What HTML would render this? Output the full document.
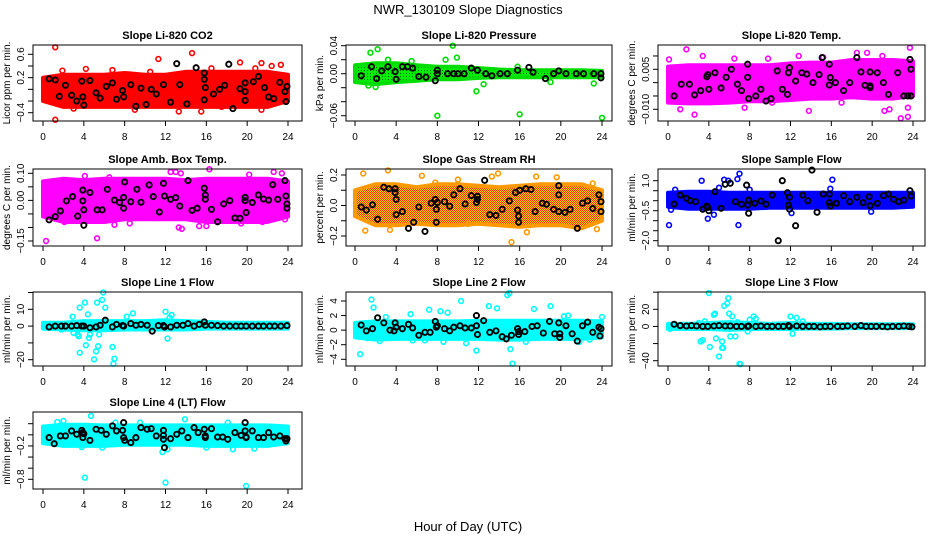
<!DOCTYPE html>
<html><head><meta charset="utf-8"><style>
html,body{margin:0;padding:0;background:#fff;}
svg{display:block;font-family:"Liberation Sans",sans-serif;}
</style></head><body>
<svg id="chart" width="936" height="540" viewBox="0 0 936 540" xmlns="http://www.w3.org/2000/svg">
<defs>
<pattern id="pGreen" width="3" height="3" patternUnits="userSpaceOnUse"><rect width="3" height="3" fill="#00ee00"/><rect x="1" y="1" width="1" height="1" fill="#006600"/></pattern>
<pattern id="pRH" width="2" height="2" patternUnits="userSpaceOnUse"><rect width="2" height="2" fill="#ffd800"/><rect width="1" height="1" fill="#ff2a00"/><rect x="1" y="1" width="1" height="1" fill="#ff2a00"/></pattern>
</defs>
<text x="468" y="14" text-anchor="middle" font-size="13">NWR_130109  Slope Diagnostics</text>
<text x="468" y="531" text-anchor="middle" font-size="13">Hour of Day (UTC)</text>
</svg>
<script>
const hours=[0,4,8,12,16,20,24];
const bandHours=[0,2,4,6,8,10,12,14,16,18,20,22,24];

const co2Hi=[0.2,0.25,0.25,0.25,0.28,0.25,0.25,0.3,0.3,0.3,0.3,0.3,0.25];
const co2Lo=[-0.2,-0.3,-0.3,-0.3,-0.3,-0.3,-0.3,-0.3,-0.3,-0.3,-0.3,-0.3,-0.2];
const co2Out=[[1.2,0.72],[1.2,-0.52],[11.3,0.52],[14.6,0.62],[15.5,-0.38],[13.3,-0.38],[21.4,-0.35],[19.3,0.46],[23.3,0.42],[21.4,0.45],[1.9,0.32],[4.2,0.35],[9,-0.35],[6.8,0.33],[10.5,0.3],[16.5,0.36],[20.8,0.36],[22.4,0.4],[3,-0.33],[17.5,-0.3]];
const co2Black=[[0.6,0.18],[1.2,0.16],[1.6,-0.12],[2.2,0.07],[2.8,-0.1],[3.3,-0.2],[3.8,0.14],[3.9,-0.13],[4,-0.27],[4.6,0.15],[5.2,-0.06],[5.6,-0.15],[6.2,0.05],[6.8,0.11],[7.2,-0.17],[7.8,-0.02],[7.9,-0.13],[8.6,0.08],[9.1,-0.29],[9.6,0.02],[10.1,-0.26],[10.6,0],[11.1,-0.08],[11.8,0.08],[12.5,-0.22],[13.1,0.44],[13.4,0.08],[14.1,-0.25],[15,0.37],[15.8,0.28],[15.8,0.17],[15.9,0.03],[15.8,-0.18],[16.7,-0.08],[17.3,0],[17.8,0.07],[18.2,0.43],[18.6,-0.33],[19.3,0.01],[19.8,-0.04],[19.8,-0.19],[19.8,0.11],[20.6,0.13],[21.1,0.22],[21.7,0.03],[22.1,-0.13],[22.6,-0.16],[23.2,0.12],[23.7,-0.04],[23.9,0.05],[23.8,-0.21]];

const presHi=[0.012,0.015,0.015,0.012,0.01,0.01,0.008,0.006,0.005,0.005,0.005,0.005,0.004];
const presLo=[-0.012,-0.015,-0.012,-0.01,-0.008,-0.008,-0.006,-0.005,-0.005,-0.005,-0.005,-0.005,-0.005];
const presOut=[[1.5,0.03],[2.2,0.035],[9.5,0.04],[9.9,0.023],[11.8,-0.025],[8,-0.06],[16,-0.058],[24,-0.063],[1.3,-0.017],[2,-0.019],[8.8,0.02],[15.8,0.01],[3.2,0.02],[5.5,0.018],[12.5,-0.015],[19,-0.012],[23.2,-0.014]];
const presBlack=[[0.6,-0.003],[1.6,0.01],[2.1,-0.007],[2.6,0.004],[3.2,0.01],[3.9,0.003],[4,-0.008],[4.6,0.01],[5.1,0.01],[5.6,0.008],[6.2,-0.004],[6.9,-0.005],[7.8,-0.01],[8,0.005],[8,0],[9,0],[9.6,0],[10,0],[10.6,0],[11.3,0.008],[11.9,0.005],[12.7,0],[13.3,-0.003],[14.1,0],[14.8,0],[15.8,0.005],[16.9,0.009],[17.3,0.002],[18.5,-0.007],[19.3,0],[19.8,0.004],[20.5,0],[21.5,0],[22.2,0],[23.2,0],[23.9,0],[23.9,-0.006]];

const tempHi=[0.006,0.0065,0.0065,0.0065,0.0065,0.0065,0.0072,0.0075,0.0075,0.0085,0.0085,0.0085,0.008];
const tempLo=[-0.0075,-0.0078,-0.0078,-0.0075,-0.007,-0.007,-0.0065,-0.006,-0.006,-0.0055,-0.006,-0.006,-0.005];
const tempOut=[[0.1,0.0087],[1.8,0.0125],[3.4,0.01],[1.2,-0.01],[2.6,-0.012],[7.5,-0.0094],[13.8,-0.0106],[18.5,0.0112],[19.5,0.0112],[21.2,-0.0106],[21.7,-0.01],[22.8,-0.0134],[23.5,-0.0094],[23.5,-0.0128],[23.7,0.0131],[12.8,0.01],[10.2,-0.0075],[17,-0.0075],[6.5,0.009],[9.8,0.009],[15.2,0.0095],[21,0.01]];
const tempBlack=[[0.6,-0.005],[1.3,-0.0006],[2.1,-0.0006],[2.6,-0.0046],[3.2,-0.003],[3.8,0.0022],[3.9,0.003],[4,-0.0025],[4.6,0.0037],[5.2,-0.002],[5.7,0.002],[6.2,0.005],[6.8,-0.0006],[7.2,-0.003],[7.8,0.002],[7.8,0.0069],[7.9,-0.006],[8.6,-0.005],[9.1,-0.0025],[9.6,-0.0069],[10.1,-0.006],[10.7,0.0044],[11.2,-0.0025],[11.7,-0.0044],[11.8,0.0037],[11.9,0.0056],[12.5,0.0006],[13.1,0.0037],[13.6,0.0032],[14.2,0],[14.8,0.003],[15.1,0.0094],[15.8,0.0069],[15.8,-0.0009],[15.9,0.0019],[16.4,0],[17.2,-0.003],[17.8,0],[18.5,0.0094],[18.9,0.004],[19.3,-0.001],[19.8,-0.0012],[19.8,-0.0019],[19.8,0.004],[20.5,0.0037],[21.1,0],[21.6,-0.0044],[22.5,0.0037],[23.1,-0.005],[23.5,-0.005],[23.7,0.0087],[23.8,0.005],[23.8,-0.005]];

const ambHi=[0.07,0.08,0.075,0.08,0.08,0.08,0.08,0.075,0.08,0.08,0.08,0.08,0.07];
const ambLo=[-0.06,-0.08,-0.08,-0.08,-0.07,-0.07,-0.07,-0.07,-0.08,-0.08,-0.08,-0.08,-0.06];
const ambOut=[[0.3,-0.15],[5.3,-0.14],[1.9,-0.06],[4.1,0.09],[6.5,0.085],[12.5,0.105],[13,0.105],[13.5,0.1],[16.3,0.115],[20.2,0.095],[22.6,0.105],[23.4,0.1],[13.6,-0.105],[13.3,-0.1],[15.3,-0.095],[16,-0.095],[7,-0.09],[2.1,-0.08],[10.9,-0.065],[21.5,-0.08],[23.7,-0.07],[5.6,-0.075],[8.5,-0.085],[19.4,-0.085]];
const ambBlack=[[0.6,-0.072],[1.2,-0.06],[1.7,-0.039],[2.3,-0.002],[2.9,0.014],[3.4,-0.058],[3.9,0.038],[3.9,-0.002],[4,-0.035],[4,-0.092],[4.6,0.029],[5.3,-0.035],[5.8,-0.035],[6.3,0.041],[7,0.001],[7.5,-0.008],[7.9,0.011],[7.9,-0.029],[8,0.068],[8.6,-0.005],[9.2,0.041],[9.6,-0.007],[10.4,0.057],[10.8,0.014],[11.4,-0.043],[11.8,0.063],[11.9,0.016],[12.5,0.004],[13,0.01],[13.4,-0.021],[14.2,0.073],[14.6,-0.037],[15.1,-0.029],[15.8,0.045],[15.9,0.02],[15.9,0.004],[16.5,-0.033],[17.1,-0.079],[17.7,-0.013],[18.3,-0.001],[18.8,-0.065],[19.3,-0.066],[19.8,0.011],[19.8,-0.001],[19.9,-0.045],[20.5,-0.008],[21.1,0.02],[21.6,0.005],[22.1,0.001],[22.5,0.058],[23,0.004],[23.7,0.073],[23.8,0.016],[23.9,-0.013],[23.9,-0.029]];

const rhHi=[0.1,0.14,0.14,0.12,0.14,0.14,0.13,0.12,0.13,0.14,0.14,0.14,0.1];
const rhLo=[-0.07,-0.13,-0.13,-0.12,-0.13,-0.13,-0.12,-0.13,-0.14,-0.13,-0.13,-0.15,-0.1];
const rhOut=[[0.8,0.21],[3.2,0.23],[6.5,0.195],[13.9,0.21],[15.2,-0.24],[17.6,0.19],[19.6,0.185],[23.1,0.145],[1,-0.165],[3.4,-0.16],[16.7,-0.175],[23.5,-0.155],[11,-0.12],[13.3,0.19],[10,0.17],[7.8,0.15]];
const rhBlack=[[0.6,-0.01],[1.1,-0.03],[1.7,0.005],[2.2,-0.09],[2.8,0.12],[3.3,0.11],[3.9,0.11],[3.9,0.085],[4,0.04],[4,-0.06],[4.6,-0.04],[5.2,-0.15],[5.7,-0.11],[6.2,-0.01],[6.8,-0.17],[7.4,0.015],[7.8,0.04],[7.9,-0.025],[7.9,-0.11],[8,0.02],[8.7,0.025],[9.2,-0.005],[9.6,0.07],[10.2,0.11],[10.7,0.01],[11.3,0.065],[11.8,0.02],[11.9,0.06],[11.9,0.04],[12.6,0.165],[13.1,-0.06],[13.7,-0.065],[14.3,-0.025],[15,0.03],[15.6,0.085],[15.8,-0.03],[15.9,-0.07],[15.9,-0.11],[16,0.1],[16.6,0.11],[17.1,0.105],[17.5,-0.04],[18.2,0.015],[18.6,0.008],[19.3,-0.025],[19.8,0.07],[19.8,-0.04],[19.8,0.13],[20.4,-0.045],[20.9,-0.025],[21.6,-0.15],[22.1,0.015],[22.6,0.03],[23.1,-0.02],[23.7,0.07],[23.9,0.025],[23.9,-0.04]];

const sfHi=[0.4,0.45,0.45,0.4,0.4,0.4,0.4,0.4,0.4,0.4,0.4,0.4,0.4];
const sfLo=[-0.3,-0.4,-0.4,-0.4,-0.4,-0.35,-0.35,-0.35,-0.35,-0.35,-0.35,-0.35,-0.3];
const sfOut=[[0.1,-1.22],[0.3,-0.45],[3.3,1],[3.9,-0.9],[4.5,-0.7],[5.5,1.05],[5.9,1],[6.8,1.08],[7,1.35],[6.9,-1.22],[8,0.55],[16.1,1.05],[19.9,-0.55],[12.1,-0.62],[5,0.65],[15.9,0.6],[0.7,0.55]];
const sfBlack=[[0.6,-0.17],[1.2,0.28],[1.8,0.12],[2.2,0],[2.7,-0.05],[3.4,-0.43],[3.8,-0.27],[3.9,-0.33],[4,-0.5],[4.6,0.45],[5.2,-0.38],[5.6,0.82],[6.1,0.87],[6.6,-0.05],[7.2,-0.18],[7.7,0.78],[7.8,-0.22],[7.9,0.03],[7.9,-0.63],[8.5,-0.13],[9.1,-0.02],[9.6,-0.18],[10.2,0.28],[10.8,-2],[11.2,1],[11.7,0.4],[11.8,-0.22],[11.9,-0.42],[11.9,0.17],[12.5,-1.25],[13.2,0.28],[13.7,0],[14.1,1.53],[14.6,-0.58],[15.2,0.33],[15.8,0.33],[15.8,-0.1],[15.9,-0.27],[16.5,-0.13],[17.2,0.25],[17.8,-0.05],[18.5,0.17],[19.1,-0.1],[19.7,0.2],[19.8,-0.25],[20.5,-0.13],[21.1,0.25],[21.6,0.33],[22.1,0.07],[22.6,-0.05],[23.1,0.03],[23.7,0.5],[23.8,0.23]];

const l1Hi=[2,2,3,3,3,3,3.5,3,2.5,2,2,2,2];
const l1Lo=[-1.5,-2,-2.5,-2.5,-2,-2,-2,-2,-1.5,-1.5,-1.5,-1.5,-1.5];
const l1Out=[[2.9,5.6],[3,-4],[3.4,-5],[3.5,-6],[3.6,11],[3.6,-15.8],[4.1,14],[4.2,-11.4],[4.4,7],[4.5,-7],[4.6,-5],[5,-19.8],[5.2,-15],[5.3,14],[5.4,-12],[5.5,-5],[5.8,15.6],[5.9,20],[6.1,11],[6.8,-12.4],[6.9,-22.4],[7,-19.4],[8.2,5.6],[8.8,7.6],[12,8.6],[12.2,-7.4],[12.4,5],[12.6,6.6],[1.8,-2],[9.5,1.6]];
const l1Black=[[0.6,-0.5],[1.2,0],[1.8,0],[2.2,0],[2.8,0],[3.3,0.3],[3.8,0],[4,0],[4.6,-1],[5.2,-0.5],[5.6,0.5],[6.1,3.5],[6.8,-0.5],[7.2,1],[7.8,0.3],[7.9,0],[8.6,1.5],[9.1,0.5],[9.6,1],[10.2,0.5],[10.7,-3],[11.3,0.3],[11.8,0.3],[11.9,-0.5],[12.5,-0.5],[13.1,0.5],[13.7,0.5],[14.2,1.5],[14.8,0],[15.3,1],[15.8,2.5],[15.9,0.5],[16.5,0.5],[17.1,0.3],[17.7,0],[18.3,0],[18.9,0],[19.4,0],[19.9,0],[20.5,0],[21.1,0],[21.6,0],[22.2,0],[22.7,0],[23.3,0],[23.9,0.3]];

const l2Hi=[1,1.2,1.2,1.2,1.2,1.2,1.3,1.3,1.3,1.3,1.3,1.3,1.2];
const l2Lo=[-1,-1.3,-1.2,-1.2,-1.2,-1.2,-1.2,-1.3,-1.3,-1.2,-1.2,-1.2,-1];
const l2Out=[[0.5,-3.3],[1.6,4.2],[1.8,3.1],[3,1.8],[5.4,2.2],[7.2,2.8],[8.3,2.6],[9,2.4],[10.3,4],[10.8,-1.8],[11.8,-2.8],[13,3.3],[13.8,3],[14.8,4.8],[15,5.1],[15.1,-2.6],[15.3,-4.6],[17.4,2.9],[19,3.3],[20.3,1.9],[20.7,2],[24,1.8],[1.2,-1.1],[2.4,-1.5],[5.6,-1.4],[6.8,-1.4],[8.6,-1.6],[16.6,-1.6],[21.8,-1.6],[22.8,-1.3]];
const l2Black=[[0.6,0.7],[1.1,-0.1],[1.7,0.2],[2.2,1.7],[2.8,1],[3.4,0],[3.8,-0.1],[3.9,1],[4,0.4],[4.6,0.2],[5.2,0.8],[5.6,0.3],[6.2,-0.7],[6.8,-0.3],[7.3,-0.3],[7.8,1.2],[7.9,0.4],[8,0.6],[8.7,0.2],[9.2,-0.1],[9.6,0.4],[10.2,0.6],[10.7,0.3],[11.3,0.3],[11.8,2],[11.8,0.6],[11.9,-0.6],[12.5,1.3],[13.1,-0.3],[13.7,-0.1],[14.3,-0.9],[14.7,-1.2],[15.2,-0.7],[15.8,0.2],[15.9,-0.2],[15.9,-0.6],[16.5,-0.2],[17.2,0.5],[17.7,0.6],[18.3,-0.4],[18.9,1.2],[19.4,-0.5],[19.8,1],[19.9,-0.5],[19.9,-1],[20.5,0.6],[21.1,-0.5],[21.6,-1.5],[22.1,0.6],[22.6,1.1],[23.1,-0.3],[23.7,0.4],[23.8,-0.8],[23.9,0.2]];

const l3Hi=[3,3,4,5,4,3,4,3,3,2.5,2.5,2.5,2.5];
const l3Lo=[-3,-3,-3,-4,-3,-3,-3,-2.5,-2.5,-2,-2,-2,-2];
const l3Out=[[4,39],[3.2,-17.5],[3.4,-16],[4.1,-24],[4.5,13.6],[4.6,15],[4.7,-14],[5,-35],[5.3,-17.5],[5.4,-25],[5.5,24],[5.3,-25],[5.8,27],[5.9,33],[6.1,-11.7],[6,15],[6.3,11.7],[6.6,-11.7],[7,-43.6],[7.1,-44],[6.8,5],[7.8,-5.8],[8,7.8],[8.4,11.7],[8.6,9],[12,11.7],[12.2,-8.5],[12.6,10],[13.2,6],[3.6,6],[3,4],[2.4,-1.5],[0.2,-2.7]];
const l3Black=[[0.6,2.5],[1.2,1],[1.8,0.5],[2.3,1],[2.8,0.5],[3.4,0],[3.9,0],[4.5,0.5],[5,1],[5.6,0.5],[6.1,0.5],[6.7,0],[7.2,0],[7.8,0],[7.9,0.5],[8.6,0],[9.1,0.5],[9.7,0],[10.2,0],[10.8,0],[11.3,0],[11.8,1],[11.9,0],[12.6,0.5],[13.2,0],[13.8,0],[14.3,0],[14.9,-0.5],[15.4,0],[15.9,0],[16.6,0],[17.1,0],[17.6,0.5],[18.3,0],[18.9,1],[19.4,0],[19.9,0],[20.4,0],[21,0],[21.5,-0.5],[22,0],[22.6,0],[23.1,0.5],[23.6,0],[23.9,-0.5]];

const l4Hi=[0.15,0.18,0.18,0.17,0.17,0.17,0.17,0.17,0.17,0.17,0.17,0.17,0.15];
const l4Lo=[-0.15,-0.2,-0.2,-0.2,-0.18,-0.18,-0.18,-0.18,-0.2,-0.2,-0.2,-0.2,-0.15];
const l4Out=[[4.1,-0.77],[12,-0.86],[19.9,-0.92],[4.7,0.34],[1.4,0.23],[2,0.25],[13.9,0.28],[11.7,-0.31],[12.2,-0.26],[18.6,-0.26],[20.7,-0.25],[16,-0.23],[5.8,-0.23],[3.8,-0.22],[7.1,0.22],[9.5,0.22],[18.1,0.22]];
const l4Black=[[0.6,-0.05],[1.1,-0.16],[1.7,-0.02],[2.2,-0.02],[2.8,0.07],[3.3,0.01],[3.8,0.08],[3.9,0.04],[3.9,-0.05],[4,0.02],[4.6,-0.1],[5.2,0.1],[5.7,0.08],[6.2,0.01],[6.8,0.16],[7.2,0.07],[7.8,0.08],[7.9,0.22],[7.9,-0.05],[8,-0.1],[8.6,-0.14],[9.1,-0.05],[9.6,0.13],[10.2,0.1],[10.6,0.11],[11.1,-0.02],[11.8,0.08],[11.8,-0.01],[11.8,-0.08],[11.9,-0.23],[12.5,-0.07],[13.1,0.01],[13.6,0.07],[14.2,-0.05],[14.8,0.13],[15.2,0.04],[15.8,0.1],[15.9,-0.02],[15.9,-0.05],[16.5,0.11],[17.1,-0.04],[17.6,-0.04],[18.1,-0.08],[18.8,0.04],[19.4,-0.01],[19.8,0.22],[19.8,0.07],[19.9,-0.04],[19.9,-0.05],[20.5,0.07],[21.1,-0.05],[21.6,-0.05],[22.1,0.04],[22.6,-0.04],[23.2,-0.02],[23.7,-0.07],[23.8,-0.11],[23.9,-0.07]];

const co2Ticks=[-0.4,-0.2,0,0.2,0.4,0.6], co2Labels=["-0.4","","","0.2","","0.6"];
const presTicks=[-0.06,-0.04,-0.02,0,0.02,0.04], presLabels=["-0.06","","","0.00","","0.04"];
const tempTicks=[-0.01,-0.005,0,0.005,0.01], tempLabels=["-0.010","","","0.005",""];
const ambTicks=[-0.15,-0.1,-0.05,0,0.05,0.1], ambLabels=["-0.15","","","0.00","","0.10"];
const rhTicks=[-0.2,-0.1,0,0.1,0.2], rhLabels=["-0.2","","0.0","","0.2"];
const sfTicks=[-2,-1.5,-1,-0.5,0,0.5,1], sfLabels=["-2.0","","","-0.5","","","1.0"];
const l1Ticks=[-20,-10,0,10,20], l1Labels=["-20","","0","10",""];
const l2Ticks=[-4,-2,0,2,4], l2Labels=["-4","-2","0","2","4"];
const l3Ticks=[-40,-20,0,20,40], l3Labels=["-40","","0","20",""];
const l4Ticks=[-0.8,-0.6,-0.4,-0.2,0,0.2], l4Labels=["-0.8","","","-0.2","",""];

const NS="http://www.w3.org/2000/svg";
const svg=document.getElementById('chart');
const colBox=[[33,302],[346,612],[658,925]];
const colX=[[43,288],[355,602],[668,913]];
const rowBox=[[45,121],[169,246],[292,366],[412,489]];

const panels=[
 {key:'co2',title:'Slope Li-820 CO2',ylab:'Licor ppm per min.',c:0,r:0,a:[0.6,54.3,-0.4,112.7],col:'#ff0000',fill:'#ff0000',hi:co2Hi,lo:co2Lo,out:co2Out,blk:co2Black,ticks:co2Ticks,labels:co2Labels},
 {key:'pressure',title:'Slope Li-820 Pressure',ylab:'kPa per min.',c:1,r:0,a:[0.04,45.7,-0.06,115.7],col:'#00dd00',fill:'url(#pGreen)',hi:presHi,lo:presLo,out:presOut,blk:presBlack,ticks:presTicks,labels:presLabels},
 {key:'li820-temp',title:'Slope Li-820 Temp.',ylab:'degrees C per min.',c:2,r:0,a:[0.005,69.3,-0.01,109.3],col:'#ff00ff',fill:'#ff00ff',hi:tempHi,lo:tempLo,out:tempOut,blk:tempBlack,ticks:tempTicks,labels:tempLabels},
 {key:'amb-box-temp',title:'Slope Amb. Box Temp.',ylab:'degrees C per min.',c:0,r:1,a:[0.1,173.3,-0.15,241],col:'#ff00ff',fill:'#ff00ff',hi:ambHi,lo:ambLo,out:ambOut,blk:ambBlack,ticks:ambTicks,labels:ambLabels},
 {key:'gas-stream-rh',title:'Slope Gas Stream RH',ylab:'percent per min.',c:1,r:1,a:[0.2,175,-0.2,236],col:'#ff9900',fill:'url(#pRH)',hi:rhHi,lo:rhLo,out:rhOut,blk:rhBlack,ticks:rhTicks,labels:rhLabels},
 {key:'sample-flow',title:'Slope Sample Flow',ylab:'ml/min per min.',c:2,r:1,a:[1,180.7,-2,240.7],col:'#0000ff',fill:'#0000ff',hi:sfHi,lo:sfLo,out:sfOut,blk:sfBlack,ticks:sfTicks,labels:sfLabels},
 {key:'line1-flow',title:'Slope Line 1 Flow',ylab:'ml/min per min.',c:0,r:2,a:[10,309.3,-20,359.7],col:'#00ffff',fill:'#00ffff',hi:l1Hi,lo:l1Lo,out:l1Out,blk:l1Black,ticks:l1Ticks,labels:l1Labels},
 {key:'line2-flow',title:'Slope Line 2 Flow',ylab:'ml/min per min.',c:1,r:2,a:[4,301,-4,359.3],col:'#00ffff',fill:'#00ffff',hi:l2Hi,lo:l2Lo,out:l2Out,blk:l2Black,ticks:l2Ticks,labels:l2Labels},
 {key:'line3-flow',title:'Slope Line 3 Flow',ylab:'ml/min per min.',c:2,r:2,a:[20,309.3,-40,360.7],col:'#00ffff',fill:'#00ffff',hi:l3Hi,lo:l3Lo,out:l3Out,blk:l3Black,ticks:l3Ticks,labels:l3Labels},
 {key:'line4-flow',title:'Slope Line 4 (LT) Flow',ylab:'ml/min per min.',c:0,r:3,a:[0.2,423.7,-0.8,479.3],col:'#00ffff',fill:'#00ffff',hi:l4Hi,lo:l4Lo,out:l4Out,blk:l4Black,ticks:l4Ticks,labels:l4Labels}
];

function mk(tag,attrs,parent){const e=document.createElementNS(NS,tag);for(const k in attrs)e.setAttribute(k,attrs[k]);(parent||svg).appendChild(e);return e;}

panels.forEach(p=>{
 const [bx0,bx1]=colBox[p.c], [by0,by1]=rowBox[p.r], [x0,x1]=colX[p.c];
 const xs=h=>x0+(x1-x0)*h/24;
 const ys=v=>p.a[1]+(p.a[3]-p.a[1])*(v-p.a[0])/(p.a[2]-p.a[0]);
 const g=mk('g',{});
 
 
 const t=mk('text',{x:(bx0+bx1)/2,y:by0-6,'text-anchor':'middle','font-size':'11','font-weight':'bold'},g);
 t.textContent=p.title;
 
 
 // band
 let d='';
 bandHours.forEach((h,i)=>{d+=(i?'L':'M')+xs(h).toFixed(1)+','+ys(p.hi[i]).toFixed(1);});
 for(let i=bandHours.length-1;i>=0;i--)d+='L'+xs(bandHours[i]).toFixed(1)+','+ys(p.lo[i]).toFixed(1);
 const band=mk('path',{d:d+'Z',fill:p.fill,stroke:p.col,'stroke-width':'4','stroke-linejoin':'round'},g);
 
 
 p.out.forEach(pt=>{
  const c=mk('circle',{cx:xs(pt[0]),cy:ys(pt[1]),r:2.4,fill:'none',stroke:p.col,'stroke-width':'1.6'},g);
  
  
 });
 p.blk.forEach(pt=>{
  const c=mk('circle',{cx:xs(pt[0]),cy:ys(pt[1]),r:2.6,fill:'none',stroke:'#000','stroke-width':'1.9'},g);
  
  
 });
 const box=mk('rect',{x:bx0,y:by0,width:bx1-bx0,height:by1-by0,fill:'none',stroke:'#000','stroke-width':'1'},g);
 
 
 // x axis
 hours.forEach(h=>{
  mk('line',{x1:xs(h),x2:xs(h),y1:by1,y2:by1+5,stroke:'#000'},g);
  const tl=mk('text',{x:xs(h),y:by1+19,'text-anchor':'middle','font-size':'10'},g);
  tl.textContent=h;
  
  
 });
 // y axis
 p.ticks.forEach((v,i)=>{
  const y=ys(v);
  mk('line',{x1:bx0-5,x2:bx0,y1:y,y2:y,stroke:'#000'},g);
  if(p.labels[i]){
   const tl=mk('text',{x:bx0-9,y:y,'text-anchor':'middle','font-size':'10',transform:'rotate(-90 '+(bx0-9)+' '+y+')'},g);
   tl.textContent=p.labels[i].replace('-','\u2212');
   
   
  }
 });
 const yc=(by0+by1)/2, yx=bx0-23;
 const yt=mk('text',{x:yx,y:yc,'text-anchor':'middle','font-size':'10',transform:'rotate(-90 '+yx+' '+yc+')'},g);
 yt.textContent=p.ylab;
 
 
});
</script>
</body></html>
